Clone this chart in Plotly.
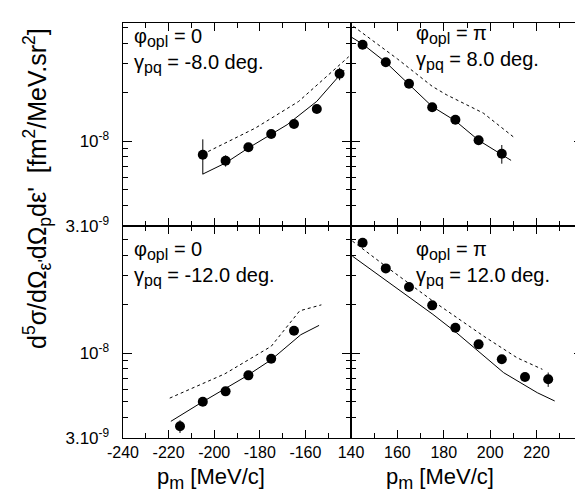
import plotly.graph_objects as go
import math

# ---------------- data ----------------
tl_x = [-205, -195, -185, -175, -165, -155, -145]
tl_y = [8.24e-9, 7.56e-9, 9.15e-9, 1.104e-8, 1.272e-8, 1.573e-8, 2.595e-8]
tl_err = [2.0e-9, 0.6e-9, 0.4e-9, 0.5e-9, 0.5e-9, 0.7e-9, 2.3e-9]
tl_solid_x = [-205, -195, -185, -175, -168, -155, -143]
tl_solid_y = [6.26e-9, 7.33e-9, 9.06e-9, 1.104e-8, 1.26e-8, 1.754e-8, 2.73e-8]
tl_dash_x = [-205, -182, -163, -141]
tl_dash_y = [8.3e-9, 1.2e-8, 1.75e-8, 3.3e-8]

tr_x = [145, 155, 165, 175, 185, 195, 205]
tr_y = [3.914e-8, 3.05e-8, 2.252e-8, 1.612e-8, 1.352e-8, 1.01e-8, 8.35e-9]
tr_err = [1.2e-9, 0.9e-9, 0.7e-9, 0.6e-9, 0.5e-9, 0.5e-9, 1.1e-9]
tr_solid_x = [140, 145, 155, 165, 175, 185, 195, 209]
tr_solid_y = [4.37e-8, 3.95e-8, 3.05e-8, 2.24e-8, 1.63e-8, 1.33e-8, 1.01e-8, 7.6e-9]
tr_dash_x = [141, 160, 175, 181, 197, 210]
tr_dash_y = [5.08e-8, 3.2e-8, 2.17e-8, 1.93e-8, 1.486e-8, 1.06e-8]

bl_x = [-215, -205, -195, -185, -175, -165]
bl_y = [3.54e-9, 5.01e-9, 5.81e-9, 7.29e-9, 9.22e-9, 1.371e-8]
bl_err = [3.2e-10, 2e-10, 2e-10, 2.5e-10, 3e-10, 5e-10]
bl_solid_x = [-219, -206, -186, -175, -162, -154]
bl_solid_y = [3.8e-9, 4.92e-9, 7.19e-9, 9.09e-9, 1.297e-8, 1.48e-8]
bl_dash_x = [-219.5, -195.4, -175, -162.5, -153]
bl_dash_y = [5.28e-9, 7.44e-9, 1.1e-8, 1.82e-8, 1.98e-8]

br_x = [145, 155, 165, 175, 185, 195, 205, 215, 225]
br_y = [4.77e-8, 3.32e-8, 2.548e-8, 1.966e-8, 1.431e-8, 1.131e-8, 9.15e-9, 7.12e-9, 6.89e-9]
br_err = [1.3e-9, 1.2e-9, 0.8e-9, 0.6e-9, 0.5e-9, 0.4e-9, 0.3e-9, 0.4e-9, 0.7e-9]
br_solid_x = [140.6, 156.5, 175.3, 185.5, 205.8, 220.3, 227.8]
br_solid_y = [3.95e-8, 2.71e-8, 1.73e-8, 1.333e-8, 7.57e-9, 5.7e-9, 5.07e-9]
br_dash_x = [140.6, 155.8, 175.3, 197.1, 211.6, 222.5]
br_dash_y = [4.89e-8, 3.35e-8, 2.09e-8, 1.273e-8, 9.35e-9, 7.94e-9]

left_ticks = [-240, -220, -200, -180, -160]
right_ticks = [140, 160, 180, 200, 220]
y_major = [3e-9, 1e-8]
y_major_text = ["3.10<sup>-9</sup>\u00a0\u00a0", "10<sup>-8</sup>\u00a0\u00a0"]
y_minor = [4e-9, 5e-9, 6e-9, 7e-9, 8e-9, 9e-9, 2e-8, 3e-8, 4e-8, 5e-8]

SUB = '<sub><span style="font-size:16px">{}</span></sub>'
labels = {
    "tl": "φ" + SUB.format("opl") + " = 0<br>γ" + SUB.format("pq") + " = -8.0 deg.",
    "tr": "φ" + SUB.format("opl") + " = π<br>γ" + SUB.format("pq") + " = 8.0 deg.",
    "bl": "φ" + SUB.format("opl") + " = 0<br>γ" + SUB.format("pq") + " = -12.0 deg.",
    "br": "φ" + SUB.format("opl") + " = π<br>γ" + SUB.format("pq") + " = 12.0 deg.",
}

# ---------------- figure ----------------
FONT = "Liberation Sans, Arial, Helvetica, sans-serif"
fig = go.Figure()

panels = [
    ("tl", "x3", "y3", tl_x, tl_y, tl_err, tl_solid_x, tl_solid_y, tl_dash_x, tl_dash_y),
    ("tr", "x4", "y4", tr_x, tr_y, tr_err, tr_solid_x, tr_solid_y, tr_dash_x, tr_dash_y),
    ("bl", "x", "y", bl_x, bl_y, bl_err, bl_solid_x, bl_solid_y, bl_dash_x, bl_dash_y),
    ("br", "x2", "y2", br_x, br_y, br_err, br_solid_x, br_solid_y, br_dash_x, br_dash_y),
]
for key, xa, ya, px, py, pe, sx, sy, dx, dy in panels:
    fig.add_trace(go.Scatter(x=dx, y=dy, xaxis=xa, yaxis=ya, mode="lines",
                             line=dict(color="black", width=1, dash="3px,3px"),
                             showlegend=False, hoverinfo="skip"))
    fig.add_trace(go.Scatter(x=sx, y=sy, xaxis=xa, yaxis=ya, mode="lines",
                             line=dict(color="black", width=1),
                             showlegend=False, hoverinfo="skip"))
    fig.add_trace(go.Scatter(x=px, y=py, xaxis=xa, yaxis=ya, mode="markers",
                             marker=dict(color="black", size=10, symbol="circle"),
                             error_y=dict(type="data", array=pe, color="black",
                                          thickness=1, width=0),
                             showlegend=False))

W, H = 583, 494
L, R, T, B = 115, 575, 15, 430
MIDX, MIDY = 343, 218
pw, ph = R - L, B - T
xsplit = (MIDX - L) / pw
ysplit = (B - MIDY) / ph

xtickfont = dict(family=FONT, size=16, color="black")
ytickfont = dict(family=FONT, size=17, color="black")

def xax(domain, rng, ticks, show, anchor):
    minor_vals = [v for v in range(int(rng[0]), int(rng[1]) + 1, 10) if v not in ticks]
    return dict(domain=domain, range=rng, anchor=anchor, tickmode="array",
                tickvals=ticks, ticktext=[str(t) for t in ticks] if show else None,
                showticklabels=show, ticks="inside", ticklen=8, tickwidth=1,
                tickcolor="black", showline=True, linecolor="black", linewidth=1,
                mirror="allticks", showgrid=False, zeroline=False,
                tickfont=xtickfont,
                minor=dict(tickmode="array", tickvals=minor_vals, ticks="inside",
                           ticklen=5, tickwidth=1, tickcolor="black", showgrid=False))

def yax(domain, top, show, anchor):
    return dict(domain=domain, type="log", range=[math.log10(3e-9), top], anchor=anchor,
                tickmode="array", tickvals=y_major, ticktext=y_major_text,
                showticklabels=show, ticks="inside", ticklen=9, tickwidth=1,
                tickcolor="black", showline=True, linecolor="black", linewidth=1,
                mirror="allticks", showgrid=False, zeroline=False,
                tickfont=ytickfont,
                minor=dict(tickmode="array", tickvals=y_minor, ticks="inside",
                           ticklen=5, tickwidth=1, tickcolor="black", showgrid=False))

fig.update_layout(
    width=W, height=H,
    margin=dict(l=L, r=W - R, t=T, b=H - B, pad=0),
    paper_bgcolor="white", plot_bgcolor="white",
    font=dict(family=FONT, color="black"),
    xaxis=xax([0, xsplit], [-240, -140], left_ticks, True, "y"),
    xaxis2=xax([xsplit, 1], [140, 240], right_ticks, True, "y2"),
    xaxis3=xax([0, xsplit], [-240, -140], left_ticks, False, "y3"),
    xaxis4=xax([xsplit, 1], [140, 240], right_ticks, False, "y4"),
    yaxis=yax([0, ysplit], -7.218, True, "x"),
    yaxis2=yax([0, ysplit], -7.218, False, "x2"),
    yaxis3=yax([ysplit, 1], -7.274, True, "x3"),
    yaxis4=yax([ysplit, 1], -7.274, False, "x4"),
)

def pxx(p):
    return (p - L) / pw

def pxy(p):
    return (B - p) / ph

annfont = dict(family=FONT, size=20, color="black")
ann_pos = {"tl": (124, 42), "tr": (406, 40), "bl": (124, 255), "br": (406, 255)}
for k, (ax_, ay_) in ann_pos.items():
    fig.add_annotation(text=labels[k], x=pxx(ax_), y=pxy(ay_), xref="paper", yref="paper",
                       xanchor="left", yanchor="middle", align="left", showarrow=False,
                       font=annfont)

XT = 'p<sub><span style="font-size:18px">m</span></sub> [MeV/c]'
fig.add_annotation(text=XT, x=pxx(147), y=pxy(470), xref="paper",
                   yref="paper", xanchor="left", yanchor="middle", showarrow=False,
                   font=dict(family=FONT, size=22, color="black"))
fig.add_annotation(text=XT, x=pxx(376), y=pxy(470), xref="paper",
                   yref="paper", xanchor="left", yanchor="middle", showarrow=False,
                   font=dict(family=FONT, size=22, color="black"))
fig.add_annotation(text="d<sup>5</sup>σ/dΩ<sub>ε'</sub>dΩ<sub>p</sub>dε'  [fm<sup>2</sup>/MeV.sr<sup>2</sup>]",
                   x=pxx(29), y=pxy(181), xref="paper", yref="paper",
                   xanchor="center", yanchor="middle", textangle=-90, showarrow=False,
                   font=dict(family=FONT, size=25, color="black"))

fig.write_html("out.html")
